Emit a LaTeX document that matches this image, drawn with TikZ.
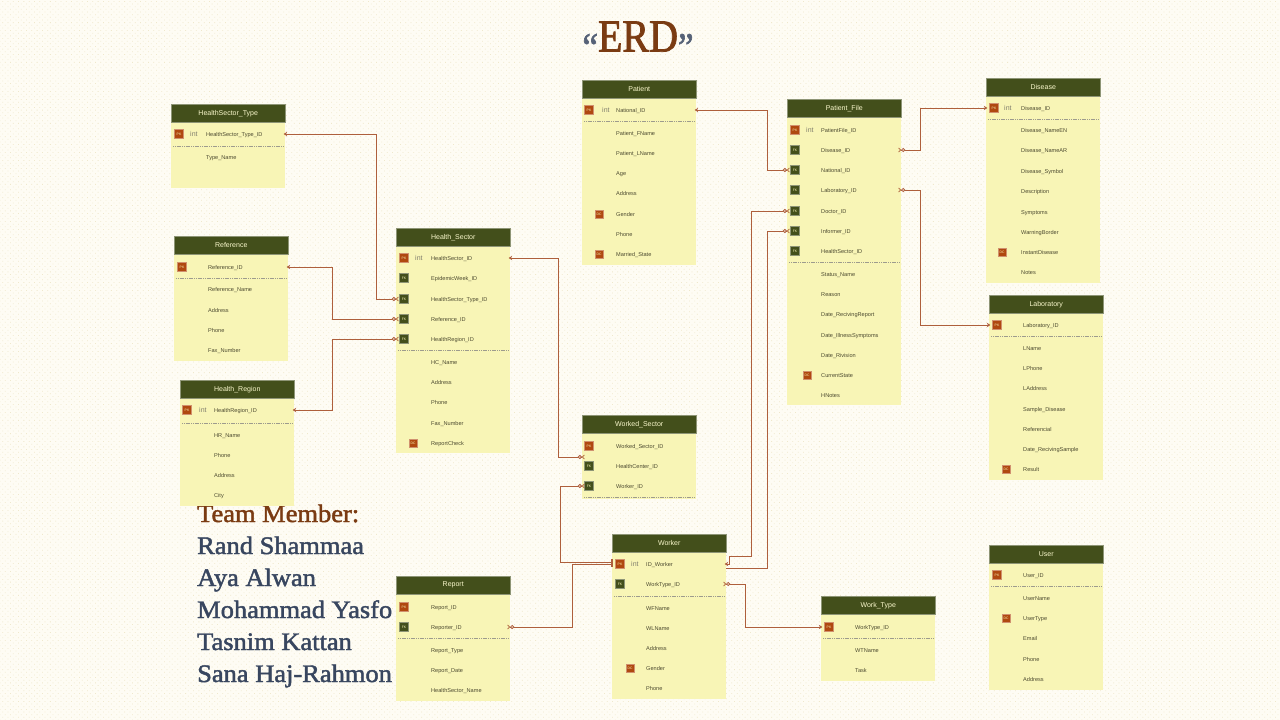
\documentclass[tikz,border=0pt]{standalone}
\usepackage{fontspec}
\setmainfont{Liberation Sans}
\newfontfamily\titlefont[FakeBold=1.8,FakeStretch=1.05]{Liberation Serif}
\newfontfamily\erdfont[FakeBold=1.6,FakeStretch=.87]{Liberation Serif}
\usetikzlibrary{arrows.meta,patterns.meta}
\definecolor{paper}{HTML}{FEFCF4}
\definecolor{dotc}{HTML}{EFE8CC}
\definecolor{headc}{HTML}{434F1B}
\definecolor{bodyc}{HTML}{F8F5B6}
\definecolor{redc}{HTML}{B0480F}
\definecolor{linec}{HTML}{AE5F3C}
\definecolor{txtc}{HTML}{4C4A30}
\definecolor{brownc}{HTML}{7A3B12}
\definecolor{bluec}{HTML}{38465F}
\tikzset{
  head/.style={fill=headc,draw=headc!60!white,line width=.5pt,text=bodyc!70!white,font=\fontsize{7}{8}\selectfont,inner sep=0pt,minimum width=114pt,minimum height=18pt},
  body/.style={fill=bodyc,draw=none,inner sep=0pt,minimum width=114pt},
  rowline/.style={inner sep=0pt,minimum width=114pt,minimum height=1pt},
  rowtext/.style={anchor=base west,inner sep=0pt,yshift=-2pt,text=txtc,font=\fontsize{5.6}{6}\selectfont},
  inttext/.style={anchor=base west,inner sep=0pt,yshift=-2pt,text=txtc!70!white,font=\fontsize{7}{8}\selectfont},
  badge/.style={minimum size=9pt,inner sep=0pt,line width=.4pt,text=bodyc,font=\fontsize{3.4}{4}\selectfont},
  pkbadge/.style={badge,fill=redc,draw=redc!60!white},
  fkbadge/.style={badge,fill=headc,draw=headc!60!white},
  dcbadge/.style={badge,fill=redc,draw=redc!60!white,minimum size=8pt},
  sepline/.style={draw=txtc!55!white,line width=.5pt,dash pattern=on 1.2pt off .6pt},
  rel/.style={draw=linec,line width=1pt,shorten <=-1.5pt,shorten >=-3pt,{Stealth[length=3.5pt,width=4.5pt]}-{Circle[open,fill=paper,length=4pt,width=4pt,line width=.8pt]Straight Barb[reversed,length=2pt,width=4pt,line width=.8pt]}},
  relplain/.style={draw=linec,line width=1pt,shorten >=-3pt,-{Circle[open,fill=paper,length=4pt,width=4pt,line width=.8pt]Straight Barb[reversed,length=2pt,width=4pt,line width=.8pt]}},
  relbar/.style={draw=linec,line width=1pt,shorten <=-1.5pt,shorten >=-3pt,{Bar[width=6pt,length=1pt]Bar[width=6pt,length=1pt]}-{Circle[open,fill=paper,length=4pt,width=4pt,line width=.8pt]Straight Barb[reversed,length=2pt,width=4pt,line width=.8pt]}},
  team/.style={anchor=base west,inner sep=0pt,text=bluec,font=\titlefont\fontsize{25.2}{28}\selectfont}
}
% table: id, left x, header top, bottom y, title, text x, int x, pk badge x, dc badge x
\newcommand\tbl[9]{%
  \def\tx{#2}\def\tt{#6}\def\ti{#7}\def\tb{#8}\def\td{#9}%
  \node[body,anchor=north west,minimum height={(#4)-(#3)-18 pt}] (#1-body) at (#2,#3+18) {};
  \node[head,anchor=north west] (#1-head) at (#2,#3) {#5};
}
\newcommand\rowline[2]{\node[rowline] (#1) at (\tx+57,#2) {};}
\newcommand\prow[3]{\rowline{#1}{#2}\node[pkbadge] (#1-b) at (\tb,#2) {PK};\node[rowtext] (#1-t) at (\tt,#2) {#3};}
\newcommand\prowi[3]{\prow{#1}{#2}{#3}\node[inttext] (#1-i) at (\ti,#2) {int};}
\newcommand\frow[3]{\rowline{#1}{#2}\node[fkbadge] (#1-b) at (\tb,#2) {FK};\node[rowtext] (#1-t) at (\tt,#2) {#3};}
\newcommand\drow[3]{\rowline{#1}{#2}\node[dcbadge] (#1-b) at (\td,#2) {DC};\node[rowtext] (#1-t) at (\tt,#2) {#3};}
\newcommand\nrow[3]{\rowline{#1}{#2}\node[rowtext] (#1-t) at (\tt,#2) {#3};}
\newcommand\sep[1]{\draw[sepline] (\tx+2,#1) -- (\tx+112,#1);}
\begin{document}
\begin{tikzpicture}[x=1pt,y=-1pt]
\useasboundingbox (0,0) rectangle (1280,720);
\fill[paper] (0,0) rectangle (1280,720);
\fill[pattern={Dots[distance=3.75pt,angle=45,radius=.55pt]},pattern color=dotc] (0,0) rectangle (1280,720);

% title
\node[inner sep=0pt,text=brownc,font=\erdfont\fontsize{46}{50}\selectfont] (erd) at (638,41) {\raisebox{-9pt}{\textcolor{bluec!85!white}{\fontsize{40}{44}\selectfont “}}ERD\raisebox{-9pt}{\textcolor{bluec!85!white}{\fontsize{40}{44}\selectfont ”}}};

% team
\node[team,text=brownc] (tm0) at (197,522) {Team Member:};
\node[team] (tm1) at (197,554) {Rand Shammaa};
\node[team] (tm2) at (197,586) {Aya Alwan};
\node[team] (tm3) at (197,618) {Mohammad Yasfo};
\node[team] (tm4) at (197,650) {Tasnim Kattan};
\node[team] (tm5) at (197,682) {Sana Haj-Rahmon};

\tbl{hst}{171}{104}{188}{HealthSector\_Type}{206}{190}{179}{188}
\prowi{hst1}{134}{HealthSector\_Type\_ID}\sep{146}
\nrow{hst2}{157}{Type\_Name}

\tbl{ref}{174}{236}{361}{Reference}{208}{193}{182}{191}
\prow{ref1}{267}{Reference\_ID}\sep{278}
\nrow{ref2}{289}{Reference\_Name}
\nrow{ref3}{310}{Address}
\nrow{ref4}{330}{Phone}
\nrow{ref5}{350}{Fax\_Number}

\tbl{hr}{180}{380}{506}{Health\_Region}{214}{199}{187}{197}
\prowi{hr1}{410}{HealthRegion\_ID}\sep{423}
\nrow{hr2}{435}{HR\_Name}
\nrow{hr3}{455}{Phone}
\nrow{hr4}{475}{Address}
\nrow{hr5}{495}{City}

\tbl{hs}{396}{228}{453}{Health\_Sector}{431}{415}{404}{413}
\prowi{hs1}{258}{HealthSector\_ID}
\frow{hs2}{278}{EpidemicWeek\_ID}
\frow{hs3}{299}{HealthSector\_Type\_ID}
\frow{hs4}{319}{Reference\_ID}
\frow{hs5}{339}{HealthRegion\_ID}\sep{350}
\nrow{hs6}{362}{HC\_Name}
\nrow{hs7}{382}{Address}
\nrow{hs8}{402}{Phone}
\nrow{hs9}{423}{Fax\_Number}
\drow{hs10}{443}{ReportCheck}

\tbl{pa}{582}{80}{265}{Patient}{616}{602}{589}{599}
\prowi{pa1}{110}{National\_ID}\sep{121}
\nrow{pa2}{133}{Patient\_FName}
\nrow{pa3}{153}{Patient\_LName}
\nrow{pa4}{173}{Age}
\nrow{pa5}{193}{Address}
\drow{pa6}{214}{Gender}
\nrow{pa7}{234}{Phone}
\drow{pa8}{254}{Married\_State}

\tbl{pf}{787}{99}{405}{Patient\_File}{821}{806}{795}{807}
\prowi{pf1}{130}{PatientFile\_ID}
\frow{pf2}{150}{Disease\_ID}
\frow{pf3}{170}{National\_ID}
\frow{pf4}{190}{Laboratory\_ID}
\frow{pf5}{211}{Doctor\_ID}
\frow{pf6}{231}{Informer\_ID}
\frow{pf7}{251}{HealthSector\_ID}\sep{262}
\nrow{pf8}{274}{Status\_Name}
\nrow{pf9}{294}{Reason}
\nrow{pf10}{314}{Date\_RecivingReport}
\nrow{pf11}{335}{Date\_IllnessSymptoms}
\nrow{pf12}{355}{Date\_Rivision}
\drow{pf13}{375}{CurrentState}
\nrow{pf14}{395}{HNotes}

\tbl{di}{986}{78}{283}{Disease}{1021}{1004}{994}{1002}
\prowi{di1}{108}{Disease\_ID}\sep{119}
\nrow{di2}{130}{Disease\_NameEN}
\nrow{di3}{150}{Disease\_NameAR}
\nrow{di4}{171}{Disease\_Symbol}
\nrow{di5}{191}{Description}
\nrow{di6}{212}{Symptoms}
\nrow{di7}{232}{WarningBorder}
\drow{di8}{252}{InstantDisease}
\nrow{di9}{272}{Notes}

\tbl{la}{989}{295}{480}{Laboratory}{1023}{1008}{997}{1006}
\prow{la1}{325}{Laboratory\_ID}\sep{336}
\nrow{la2}{348}{LName}
\nrow{la3}{368}{LPhone}
\nrow{la4}{388}{LAddress}
\nrow{la5}{409}{Sample\_Disease}
\nrow{la6}{429}{Referencial}
\nrow{la7}{449}{Date\_RecivingSample}
\drow{la8}{469}{Result}

\tbl{ws}{582}{415}{499}{Worked\_Sector}{616}{602}{589}{599}
\prow{ws1}{446}{Worked\_Sector\_ID}
\frow{ws2}{466}{HealthCenter\_ID}
\frow{ws3}{486}{Worker\_ID}\sep{497}

\tbl{wk}{612}{534}{699}{Worker}{646}{631}{620}{630}
\prowi{wk1}{564}{ID\_Worker}
\frow{wk2}{584}{WorkType\_ID}\sep{596}
\nrow{wk3}{608}{WFName}
\nrow{wk4}{628}{WLName}
\nrow{wk5}{648}{Address}
\drow{wk6}{668}{Gender}
\nrow{wk7}{688}{Phone}

\tbl{rp}{396}{576}{701}{Report}{431}{415}{404}{413}
\prow{rp1}{607}{Report\_ID}
\frow{rp2}{627}{Reporter\_ID}\sep{638}
\nrow{rp3}{650}{Report\_Type}
\nrow{rp4}{670}{Report\_Date}
\nrow{rp5}{690}{HealthSector\_Name}

\tbl{wt}{821}{596}{681}{Work\_Type}{855}{840}{829}{838}
\prow{wt1}{627}{WorkType\_ID}\sep{638}
\nrow{wt2}{650}{WTName}
\nrow{wt3}{670}{Task}

\tbl{us}{989}{545}{690}{User}{1023}{1008}{997}{1006}
\prow{us1}{575}{User\_ID}\sep{586}
\nrow{us2}{598}{UserName}
\drow{us3}{618}{UserType}
\nrow{us4}{638}{Email}
\nrow{us5}{659}{Phone}
\nrow{us6}{679}{Address}

% connectors (key end first)
\draw[rel] (hst1.east) -- ++(91,0) |- (hs3.west);
\draw[rel] (ref1.east) -- ++(44,0) |- (hs4.west);
\draw[rel] (hr1.east) -- ++(38,0) |- (hs5.west);
\draw[rel] (hs1.east) -- ++(48,0) |- ([yshift=9pt]ws2.west);
\draw[rel] (pa1.east) -- ++(71,0) |- (pf3.west);
\draw[rel] (di1.west) -- ++(-65,0) |- (pf2.east);
\draw[rel] (la1.west) -- ++(-68,0) |- (pf4.east);
\draw[rel] (wt1.west) -- ++(-75,0) |- (wk2.east);
\draw[rel] (wk1.east) -- ++(3,0) -- ++(0,-8) -- ++(22,0) |- (pf5.west);
\draw[relplain] ([yshift=-4pt]wk1.east) -- ++(41,0) |- (pf6.west);
\draw[relbar] ([yshift=2pt]wk1.west) -- ++(-51,0) |- (ws3.west);
\draw[relbar] (wk1.west) -- ++(-39,0) |- (rp2.east);
\end{tikzpicture}
\end{document}
